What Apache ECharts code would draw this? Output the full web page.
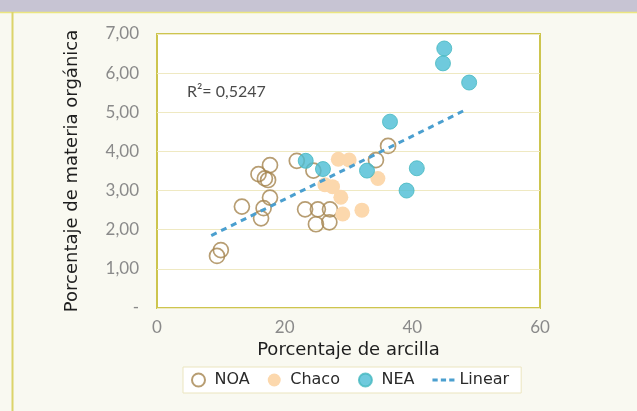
<!DOCTYPE html>
<html>
<head>
<meta charset="utf-8">
<script src="https://cdn.jsdelivr.net/npm/echarts@6/dist/echarts.min.js"></script>
<style>
html,body{margin:0;padding:0;background:#f9f9f1;}
#chart{width:637px;height:411px;}
</style>
</head>
<body>
<div id="chart"></div>
<script>
// Data: [clay %, organic matter %]
const noa = [[9.4,1.33],[10.0,1.48],[13.3,2.59],[16.7,2.55],[16.3,2.29],[17.7,2.82],[15.9,3.42],[17.7,3.65],[17.4,3.27],[16.9,3.31],[21.9,3.76],[24.5,3.51],[23.2,2.52],[25.2,2.52],[27.1,2.52],[24.9,2.14],[27.0,2.19],[34.3,3.78],[36.2,4.14]];
const chaco = [[28.4,3.80],[30.1,3.78],[26.3,3.15],[27.5,3.10],[28.8,2.83],[29.1,2.40],[32.1,2.50],[34.6,3.31]];
const nea = [[23.3,3.76],[26.0,3.55],[32.9,3.51],[36.5,4.76],[40.7,3.57],[39.1,3.00],[45.0,6.63],[44.8,6.25],[48.9,5.76]];
const linear = [[8.5,1.85],[48.3,5.06]];
const xTicks = [0,20,40,60];
const yTickLabels = ['-','1,00','2,00','3,00','4,00','5,00','6,00','7,00'];
const r2Label = 'R\u00B2= 0,5247';

const chart = echarts.init(document.getElementById('chart'));
const FONT = 'Lato';
const TITLEFONT = 'DejaVu Sans';
chart.setOption({
  backgroundColor: '#f9f9f1',
  animation: false,
  textStyle: {fontFamily: FONT},
  grid: {left:157, right:97, top:34, bottom:103, show:true, backgroundColor:'#ffffff', borderColor:'#cdc54e', borderWidth:2},
  xAxis: {
    type:'value', min:xTicks[0], max:xTicks[xTicks.length-1], interval:20,
    name:'Porcentaje de arcilla', nameLocation:'middle', nameGap:30,
    nameTextStyle:{fontSize:18, color:'#1e1e1e', fontFamily:TITLEFONT},
    axisLine:{show:false}, axisTick:{show:false}, splitLine:{show:false},
    axisLabel:{fontSize:17, color:'#8a8a8a', margin:11, fontFamily:FONT}
  },
  yAxis: {
    type:'value', min:0, max:7, interval:1,
    name:'Porcentaje de materia orgánica', nameLocation:'middle', nameGap:76,
    nameTextStyle:{fontSize:18, color:'#1e1e1e', fontFamily:TITLEFONT},
    axisLine:{show:false}, axisTick:{show:false},
    splitLine:{show:true, lineStyle:{color:'#efe9c2', width:1}},
    axisLabel:{fontSize:17, color:'#8a8a8a', margin:18, fontFamily:FONT,
      formatter: v => yTickLabels[Math.round(v)]}
  },
  legend: {
    left:183, top:367, width:400,
    backgroundColor:'#ffffff', borderColor:'#ebe5bf', borderWidth:1,
    padding:[5,12,5,8], itemGap:18, itemWidth:22, itemHeight:13,
    textStyle:{fontSize:16, color:'#2a2a2a', fontFamily:TITLEFONT},
    data:[
      {name:'NOA', icon:'circle'},
      {name:'Chaco', icon:'circle'},
      {name:'NEA', icon:'circle'},
      {name:'Linear', icon:'path://M0,5h5v3h-5z M8,5h5v3h-5z M16,5h5v3h-5z'}
    ]
  },
  graphic: [
    {type:'rect', silent:true, shape:{x:0,y:0,width:637,height:12}, style:{fill:'#c7c4d3'}, z:100},
    {type:'line', silent:true, shape:{x1:0,y1:12.5,x2:637,y2:12.5}, style:{stroke:'#ece680', lineWidth:1.5}, z:100},
    {type:'line', silent:true, shape:{x1:12.5,y1:12,x2:12.5,y2:411}, style:{stroke:'#dcd46a', lineWidth:2}, z:100},
    {type:'text', silent:true, left:187, top:84, style:{text:r2Label, fontSize:16, fill:'#4a4a4a', fontFamily:FONT}, z:100}
  ],
  series: [
    {name:'NOA', type:'scatter', data:noa, symbolSize:15,
      itemStyle:{color:'rgba(255,255,255,0)', borderColor:'#a5844f', borderWidth:1.7}},
    {name:'Chaco', type:'scatter', data:chaco, symbolSize:15,
      itemStyle:{color:'#fcd8ad', opacity:1}},
    {name:'NEA', type:'scatter', data:nea, symbolSize:15,
      itemStyle:{color:'#4bbdd5', borderColor:'#45b8bf', borderWidth:1}},
    {name:'Linear', type:'line', data:linear, symbol:'none', showSymbol:false,
      lineStyle:{color:'#4b9fcf', width:3, type:[6,5]}, itemStyle:{color:'#4b9fcf'}, z:5}
  ]
});
</script>
</body>
</html>
